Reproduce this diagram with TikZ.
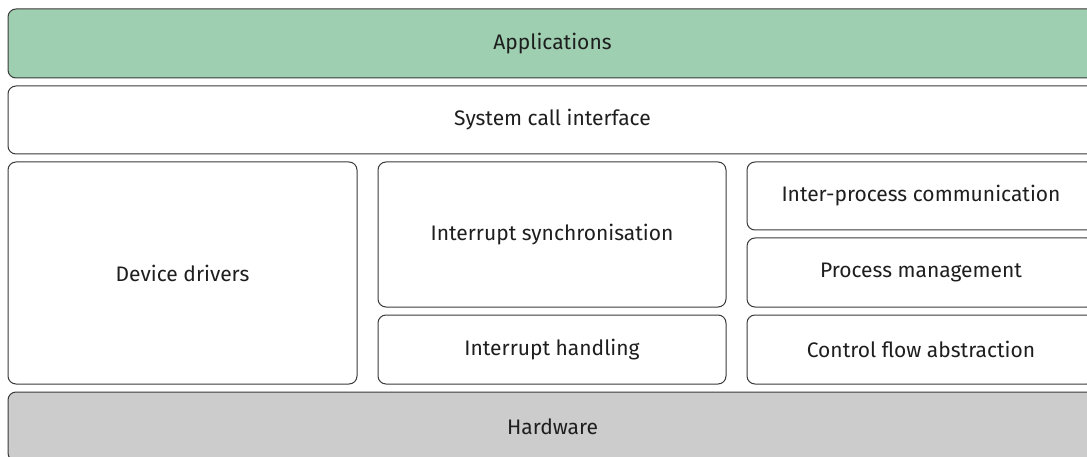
\documentclass[tikz,border=0pt]{standalone}
\usepackage{fontspec}
\setmainfont{Fira Sans}
\definecolor{appgreen}{HTML}{9ECFB0}
\definecolor{hwgray}{HTML}{CCCCCC}
\definecolor{edge}{HTML}{3A3A3A}
\definecolor{ink}{HTML}{1E1E1E}
\begin{document}
\begin{tikzpicture}[x=1pt,y=-1pt,
  layer/.style={draw=edge, line width=1pt, rounded corners=8pt, inner sep=0pt,
    text=ink, font=\fontsize{21}{25}\selectfont, fill=white},
]
\useasboundingbox (0,0) rectangle (1087,457);
\clip (0,0) rectangle (1087,457);
% box(name, x0, y0, x1, y1, label, extra)
\newcommand\layerbox[7][]{%
  \node[layer,#1, minimum width={#4-#2}, minimum height={#5-#3}]
    (#7) at ({(#2+#4)/2},{(#3+#5)/2}) {#6};}
\layerbox[fill=appgreen]{8}{9}{1097}{78}{Applications}{apps}
\layerbox{8}{86}{1097}{154}{System call interface}{syscall}
\layerbox{8}{162}{357}{384}{Device drivers}{drivers}
\layerbox{378}{162}{726}{307}{Interrupt synchronisation}{isync}
\layerbox{378}{315}{726}{384}{Interrupt handling}{ihandle}
\layerbox{747}{162}{1095}{230}{Inter-process communication}{ipc}
\layerbox{747}{238}{1095}{307}{Process management}{procman}
\layerbox{747}{315}{1095}{384}{Control flow abstraction}{cflow}
\layerbox[fill=hwgray]{8}{392}{1097}{461}{Hardware}{hw}
\end{tikzpicture}
\end{document}
